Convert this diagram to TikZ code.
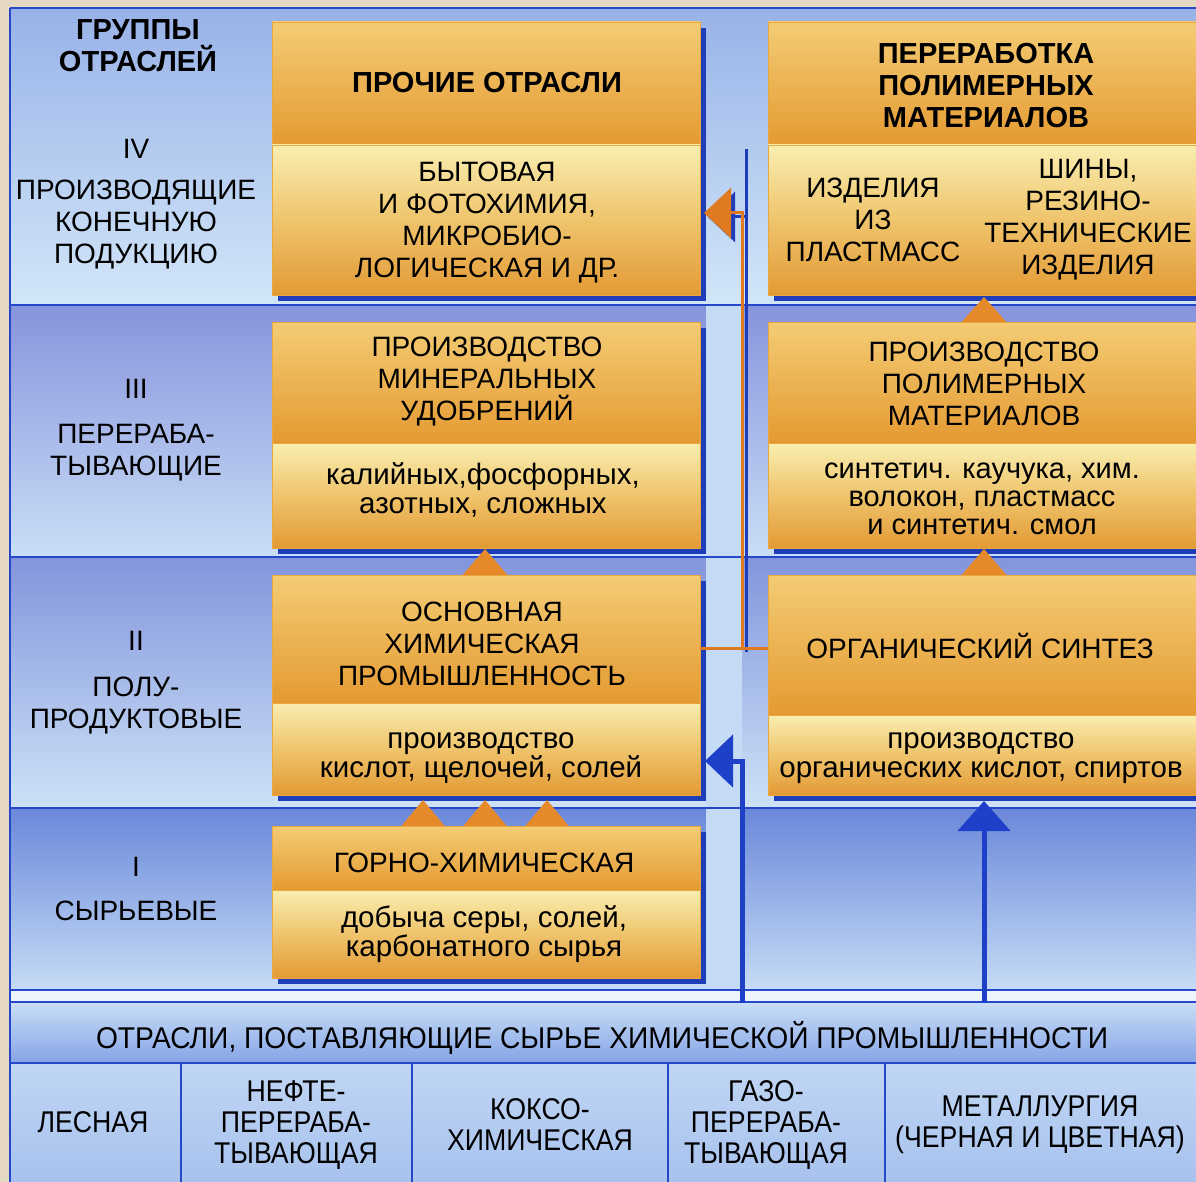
\documentclass[tikz,border=0pt]{standalone}
\usepackage{fontspec}
\setmainfont{Liberation Sans}
\newfontfamily\mynarrowfam[FakeStretch=0.89]{Liberation Sans}
\newfontfamily\myheadfam[FakeStretch=0.94]{Liberation Sans}
\usetikzlibrary{arrows.meta,calc}
\newcommand\myfont{\fontsize{28}{32}\selectfont}
\newcommand\myfontb{\fontsize{29}{32}\selectfont\bfseries}
\newcommand\myfontl{\fontsize{29.5}{29.5}\selectfont}
\newcommand\myfonts{\fontsize{29}{28}\selectfont}
\newcommand\mynarrow{\mynarrowfam\fontsize{30}{31}\selectfont}
\newcommand\myhead{\myheadfam\fontsize{30}{31}\selectfont}
\definecolor{paper}{HTML}{E6D9C3}
\definecolor{bIVt}{HTML}{98B2E8}
\definecolor{bIVb}{HTML}{D2E6F8}
\definecolor{bIIIt}{HTML}{8793DC}
\definecolor{bIIIb}{HTML}{C9DEF6}
\definecolor{bIIt}{HTML}{8295DC}
\definecolor{bIIb}{HTML}{CDE2F7}
\definecolor{bIt}{HTML}{6A88DA}
\definecolor{bIb}{HTML}{C6DCF5}
\definecolor{hdrt}{HTML}{C8DEF6}
\definecolor{hdrb}{HTML}{86A4E6}
\definecolor{colt}{HTML}{C0D6F4}
\definecolor{colb}{HTML}{A8C2EE}
\definecolor{strip}{HTML}{C5DBF5}
\definecolor{whitestrip}{HTML}{EEF4FC}
\definecolor{sepblue}{HTML}{2448C8}
\definecolor{shadowblue}{HTML}{1F3DB8}
\definecolor{boxedge}{HTML}{E8A83C}
\definecolor{hdrtop}{HTML}{F4CC74}
\definecolor{hdrbot}{HTML}{E49A32}
\definecolor{subtop}{HTML}{F9EEB0}
\definecolor{submid}{HTML}{EFC46C}
\definecolor{subbot}{HTML}{E39A35}
\definecolor{triorange}{HTML}{E5892A}
\definecolor{lineorange}{HTML}{E07A20}
\definecolor{arrowblue}{HTML}{1E40C8}
\tikzset{
 lbl/.style={align=center, inner sep=0pt, font=\myfont},
 lblb/.style={align=center, inner sep=0pt, font=\myfontb},
 lbll/.style={align=center, inner sep=0pt, font=\myfontl},
 lbls/.style={align=center, inner sep=0pt, font=\myfonts},
 nlbl/.style={align=center, inner sep=0pt, font=\mynarrow},
 hlbl/.style={align=center, inner sep=0pt, font=\myhead},
 boxh/.style={anchor=north west, minimum width=428pt, inner sep=0pt, outer sep=0pt, draw=boxedge, line width=0.6pt, top color=hdrtop, bottom color=hdrbot},
 boxs/.style={boxh, top color=subtop, bottom color=subbot, middle color=submid},
 tri/.style={fill=triorange},
 oline/.style={draw=lineorange, line width=3pt},
 oshadow/.style={draw=shadowblue, line width=3pt},
 bline/.style={draw=arrowblue, line width=5pt},
 sep/.style={draw=sepblue, line width=1.6pt},
}
\begin{document}
\begin{tikzpicture}[x=1pt,y=-1pt]
\useasboundingbox (0,0) rectangle (1196,1182);
\fill[paper] (0,0) rectangle (1196,1182);
% bands
\shade[top color=bIVt,bottom color=bIVb] (10,8) rectangle (1196,305);
\shade[top color=bIIIt,bottom color=bIIIb] (10,305) rectangle (1196,557);
\shade[top color=bIIt,bottom color=bIIb] (10,557) rectangle (1196,808);
\shade[top color=bIt,bottom color=bIb] (10,808) rectangle (1196,990);
\fill[whitestrip] (10,990) rectangle (1196,1002);
\shade[top color=hdrt,bottom color=hdrb] (10,1002) rectangle (1196,1063);
\shade[top color=colt,bottom color=colb] (10,1063) rectangle (1196,1182);
\fill[strip] (706,305) rectangle (742,990);
% separators
\draw[sep] (10,8) -- (1196,8);
\draw[sep] (10,305) -- (1196,305);
\draw[sep] (10,557) -- (1196,557);
\draw[sep] (10,808) -- (1196,808);
\draw[sep] (10,990) -- (1196,990);
\draw[sep] (10,1002) -- (1196,1002);
\draw[sep] (10,1063) -- (1196,1063);
\draw[sep] (10,8) -- (10,1182);
\foreach \xx in {181,412,668,885} \draw[sep] (\xx,1063) -- (\xx,1182);
% shadows
\fill[shadowblue] (278,28) rectangle (706,301);
\fill[shadowblue] (774,28) rectangle (1202,301);
\fill[shadowblue] (278,328) rectangle (706,554);
\fill[shadowblue] (774,328) rectangle (1202,554);
\fill[shadowblue] (278,581) rectangle (706,801);
\fill[shadowblue] (774,581) rectangle (1202,801);
\fill[shadowblue] (278,832) rectangle (706,984);
% triangles between boxes
\foreach \xx in {423,485,547} \fill[tri] (\xx-25,830) -- (\xx,800) -- (\xx+25,830) -- cycle;
\fill[tri] (460,578) -- (485,549) -- (510,578) -- cycle;
\fill[tri] (959,325) -- (984,297) -- (1009,325) -- cycle;
\fill[tri] (959,578) -- (984,549) -- (1009,578) -- cycle;
% boxes
\node[boxh, minimum height=123pt] (b4h) at (272,22) {};
\node[boxs, minimum height=150pt] (b4s) at (272,145) {};
\node[boxh, minimum height=123pt] (r4h) at (768,22) {};
\node[boxs, minimum height=150pt] (r4s) at (768,145) {};
\node[boxh, minimum height=121pt] (b3h) at (272,322) {};
\node[boxs, minimum height=105pt] (b3s) at (272,443) {};
\node[boxh, minimum height=121pt] (r3h) at (768,322) {};
\node[boxs, minimum height=105pt] (r3s) at (768,443) {};
\node[boxh, minimum height=128pt] (b2h) at (272,575) {};
\node[boxs, minimum height=92pt] (b2s) at (272,703) {};
\node[boxh, minimum height=140pt] (r2h) at (768,575) {};
\node[boxs, minimum height=80pt] (r2s) at (768,715) {};
\node[boxh, minimum height=64pt] (b1h) at (272,826) {};
\node[boxs, minimum height=88pt] (b1s) at (272,890) {};
% orange connector
\coordinate (j1) at (742,648);
\coordinate (otip) at (704,213);
\begin{scope}[transform canvas={xshift=4pt,yshift=-4pt}]
\draw[oshadow] (j1) -- (j1 |- b4h.south);
\draw[oshadow, -{Triangle[length=27pt,width=50pt]}] (j1 |- b4h.south) |- (otip);
\end{scope}
\draw[oline] (b2h.east |- j1) -- (r2h.west |- j1);
\draw[oline, -{Triangle[length=27pt,width=50pt]}] (j1) |- (otip);
% blue arrows
\coordinate (bs1) at (742,1003);
\coordinate (btip1) at (705,761);
\coordinate (bs2) at (984,1003);
\coordinate (btip2) at (984,801);
\draw[bline, -{Triangle[length=28pt,width=52pt]}] (bs1) |- (btip1);
\draw[bline, -{Triangle[length=30pt,width=52pt]}] (bs2) -- (btip2);
% left column texts
\node[lblb] (tg) at (138,46) {ГРУППЫ\\ОТРАСЛЕЙ};
\node[lbl] (t4) at (136,149) {IV};
\node[lbl] (t4d) at (136,225) {ПРОИЗВОДЯЩИЕ\\КОНЕЧНУЮ\\ПОДУКЦИЮ};
\node[lbl] (t3) at (136,389) {III};
\node[lbl] (t3d) at (136,453) {ПЕРЕРАБА-\\ТЫВАЮЩИЕ};
\node[lbl] (t2) at (136,641) {II};
\node[lbl] (t2d) at (136,706) {ПОЛУ-\\ПРОДУКТОВЫЕ};
\node[lbl] (t1) at (136,867) {I};
\node[lbl] (t1d) at (136,911) {СЫРЬЕВЫЕ};
% box texts
\node[lblb] (x4h) at (487,83) {ПРОЧИЕ ОТРАСЛИ};
\node[lbl] (x4s) at (487,223) {БЫТОВАЯ\\И ФОТОХИМИЯ,\\МИКРОБИО-\\ЛОГИЧЕСКАЯ И ДР.};
\node[lblb] (y4h) at (986,86) {ПЕРЕРАБОТКА\\ПОЛИМЕРНЫХ\\МАТЕРИАЛОВ};
\node[lbl] (y4a) at (873,220) {ИЗДЕЛИЯ\\ИЗ\\ПЛАСТМАСС};
\node[lbl] (y4b) at (1088,220) {ШИНЫ,\\РЕЗИНО-\\ТЕХНИЧЕСКИЕ\\ИЗДЕЛИЯ};
\node[lbl] (x3h) at (487,382) {ПРОИЗВОДСТВО\\МИНЕРАЛЬНЫХ\\УДОБРЕНИЙ};
\node[lbll] (x3s) at (483,490) {калийных,фосфорных,\\азотных, сложных};
\node[lbl] (y3h) at (984,384) {ПРОИЗВОДСТВО\\ПОЛИМЕРНЫХ\\МАТЕРИАЛОВ};
\node[lbls] (y3s) at (982,499) {синтетич. каучука, хим.\\волокон, пластмасс\\и синтетич. смол};
\node[lbl] (x2h) at (482,644) {ОСНОВНАЯ\\ХИМИЧЕСКАЯ\\ПРОМЫШЛЕННОСТЬ};
\node[lbll] (x2s) at (481,758) {производство\\кислот, щелочей, солей};
\node[lbl] (y2h) at (980,646) {ОРГАНИЧЕСКИЙ СИНТЕЗ};
\node[lbll] (y2s) at (981,758) {производство\\органических кислот, спиртов};
\node[lbl] (x1h) at (484,863) {ГОРНО-ХИМИЧЕСКАЯ};
\node[lbll] (x1s) at (484,934) {добыча серы, солей,\\карбонатного сырья};
% bottom texts
\node[hlbl] (hh) at (602,1038) {ОТРАСЛИ, ПОСТАВЛЯЮЩИЕ СЫРЬЕ ХИМИЧЕСКОЙ ПРОМЫШЛЕННОСТИ};
\node[nlbl] (c1) at (93,1122) {ЛЕСНАЯ};
\node[nlbl] (c2) at (296,1125) {НЕФТЕ-\\ПЕРЕРАБА-\\ТЫВАЮЩАЯ};
\node[nlbl] (c3) at (540,1125) {КОКСО-\\ХИМИЧЕСКАЯ};
\node[nlbl] (c4) at (766,1125) {ГАЗО-\\ПЕРЕРАБА-\\ТЫВАЮЩАЯ};
\node[nlbl] (c5) at (1040,1125) {МЕТАЛЛУРГИЯ\\(ЧЕРНАЯ И ЦВЕТНАЯ)};
\end{tikzpicture}
\end{document}
